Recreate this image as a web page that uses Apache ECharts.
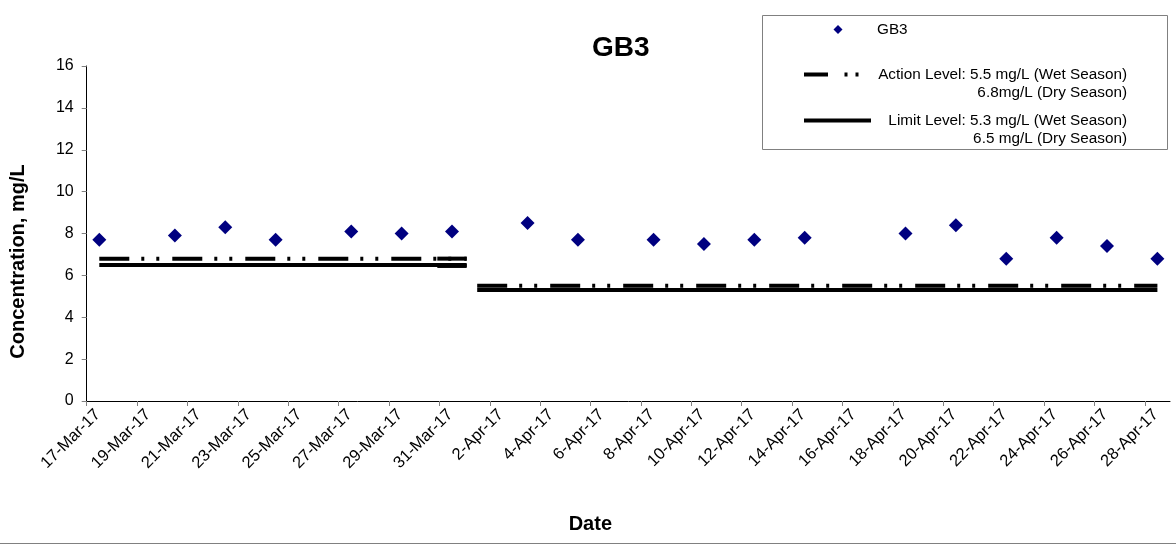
<!DOCTYPE html>
<html><head><meta charset="utf-8">
<script src="https://cdn.jsdelivr.net/npm/echarts@6/dist/echarts.min.js"></script>
<style>html,body{margin:0;padding:0;background:#fff}#c{width:1176px;height:548px}</style>
</head><body><div id="c"></div>
<script>
// ---- data ----
const sampleDates = ['2017-03-17T12:00','2017-03-20T12:00','2017-03-22T12:00','2017-03-24T12:00','2017-03-27T12:00','2017-03-29T12:00','2017-03-31T12:00',
  '2017-04-03T12:00','2017-04-05T12:00','2017-04-08T12:00','2017-04-10T12:00','2017-04-12T12:00','2017-04-14T12:00',
  '2017-04-18T12:00','2017-04-20T12:00','2017-04-22T12:00','2017-04-24T12:00','2017-04-26T12:00','2017-04-28T12:00'];
const gb3Values = [7.7,7.9,8.3,7.7,8.1,8.0,8.1, 8.5,7.7,7.7,7.5,7.7,7.8, 8.0,8.4,6.8,7.8,7.4,6.8];
const tickLabels = ['17-Mar-17','19-Mar-17','21-Mar-17','23-Mar-17','25-Mar-17','27-Mar-17','29-Mar-17','31-Mar-17',
  '2-Apr-17','4-Apr-17','6-Apr-17','8-Apr-17','10-Apr-17','12-Apr-17','14-Apr-17','16-Apr-17','18-Apr-17','20-Apr-17',
  '22-Apr-17','24-Apr-17','26-Apr-17','28-Apr-17'];
const axisStart = '2017-03-17T00:00';
const axisEnd = '2017-04-29T00:00';
const dryPeriod = ['2017-03-17T12:00','2017-04-01T02:00'];
const wetPeriod = ['2017-04-01T12:00','2017-04-28T12:00'];
const dryJoin = ['2017-03-30T22:00','2017-04-01T02:00'];
const actionLevel = {wet: 5.5, dry: 6.8};
const limitLevel = {wet: 5.3, dry: 6.5};

// ---- helpers ----
const t0 = Date.parse(axisStart + 'Z');
const dayOf = s => (Date.parse(s + 'Z') - t0) / 86400000;
const seg = (period, v) => [[dayOf(period[0]), v], [dayOf(period[1]), v]];
const FONT = '"Liberation Sans", Arial, sans-serif';
const LFONT = '15.3px ' + FONT;

const actionDash = [30, 12, 3, 12, 3, 13];
const lineSeries = (name, data, dashed) => ({
  name, type: 'line', data, symbol: 'none', silent: true,
  lineStyle: {color: '#000', width: 4, type: dashed ? actionDash : 'solid', cap: 'butt'},
  z: 2, animation: false
});

const chart = echarts.init(document.getElementById('c'), null, {renderer: 'canvas'});
chart.setOption({
  animation: false,
  backgroundColor: '#fff',
  title: {text: 'GB3', left: 587, top: 29,
    textStyle: {fontFamily: FONT, fontSize: 28, fontWeight: 'bold', color: '#000'}},
  grid: {left: 86.7, right: 6, top: 66, bottom: 147, containLabel: false},
  xAxis: {
    type: 'value', min: 0, max: dayOf(axisEnd), interval: 2,
    name: 'Date', nameLocation: 'middle', nameGap: 113,
    nameTextStyle: {fontFamily: FONT, fontSize: 20, fontWeight: 'bold', color: '#000', padding: [0, 76, 0, 0]},
    axisLine: {lineStyle: {color: '#000', width: 1}},
    axisTick: {show: true, length: 5, lineStyle: {color: '#808080'}},
    splitLine: {show: false},
    axisLabel: {
      rotate: 45, margin: 10, fontFamily: FONT, fontSize: 16.5, color: '#000',
      verticalAlign: 'top', padding: [0, -7, 0, 0],
      showMaxLabel: false,
      formatter: v => (Number.isInteger(v) && v % 2 === 0 && tickLabels[v / 2]) ? tickLabels[v / 2] : ''
    }
  },
  yAxis: {
    type: 'value', min: 0, max: 16, interval: 2,
    name: 'Concentration, mg/L', nameLocation: 'middle', nameGap: 58,
    nameTextStyle: {fontFamily: FONT, fontSize: 20, fontWeight: 'bold', color: '#000', padding: [0, 56, 0, 0]},
    axisLine: {show: true, lineStyle: {color: '#000', width: 1}},
    axisTick: {show: true, length: 5, lineStyle: {color: '#808080'}},
    splitLine: {show: false},
    axisLabel: {margin: 13, fontFamily: FONT, fontSize: 16, color: '#000'}
  },
  series: [
    {name: 'GB3', type: 'scatter', symbol: 'diamond', symbolSize: 14, z: 5,
      itemStyle: {color: '#000080', opacity: 1},
      data: sampleDates.map((d, i) => [dayOf(d), gb3Values[i]])},
    lineSeries('Action Level (Dry)', seg(dryPeriod, actionLevel.dry), true),
    lineSeries('Action Level (Wet)', seg(wetPeriod, actionLevel.wet), true),
    lineSeries('Limit Level (Dry)', seg(dryPeriod, limitLevel.dry), false),
    lineSeries('Limit Level (Wet)', seg(wetPeriod, limitLevel.wet), false),
    lineSeries('Action join', seg(dryJoin, actionLevel.dry), false),
    lineSeries('Limit join', seg(dryJoin, limitLevel.dry - 0.05), false)
  ],
  graphic: [
    {type: 'line', shape: {x1: 0, y1: 543.5, x2: 1176, y2: 543.5}, style: {stroke: '#808080', lineWidth: 1}, silent: true},
    {type: 'group', left: 762, top: 15, z: 100, children: [
      {type: 'rect', shape: {x: 0.5, y: 0.5, width: 405, height: 134}, style: {fill: '#fff', stroke: '#808080', lineWidth: 1}},
      {type: 'polygon', shape: {points: [[76, 10], [80.5, 14.5], [76, 19], [71.5, 14.5]]}, style: {fill: '#000080'}},
      {type: 'text', x: 115, y: 15, style: {text: 'GB3', font: LFONT, fill: '#000', verticalAlign: 'middle'}},
      {type: 'line', shape: {x1: 42, y1: 59.5, x2: 110, y2: 59.5}, style: {stroke: '#000', lineWidth: 4, lineDash: [24, 16.5, 3, 8, 3, 100]}},
      {type: 'text', x: 365, y: 60, style: {text: 'Action Level: 5.5 mg/L (Wet Season)', font: LFONT, fill: '#000', align: 'right', verticalAlign: 'middle'}},
      {type: 'text', x: 365, y: 78, style: {text: '6.8mg/L (Dry Season)', font: LFONT, fill: '#000', align: 'right', verticalAlign: 'middle'}},
      {type: 'line', shape: {x1: 42, y1: 105.5, x2: 109, y2: 105.5}, style: {stroke: '#000', lineWidth: 4}},
      {type: 'text', x: 365, y: 106, style: {text: 'Limit Level: 5.3 mg/L (Wet Season)', font: LFONT, fill: '#000', align: 'right', verticalAlign: 'middle'}},
      {type: 'text', x: 365, y: 124, style: {text: '6.5 mg/L (Dry Season)', font: LFONT, fill: '#000', align: 'right', verticalAlign: 'middle'}}
    ]}
  ]
});
</script>
</body></html>
